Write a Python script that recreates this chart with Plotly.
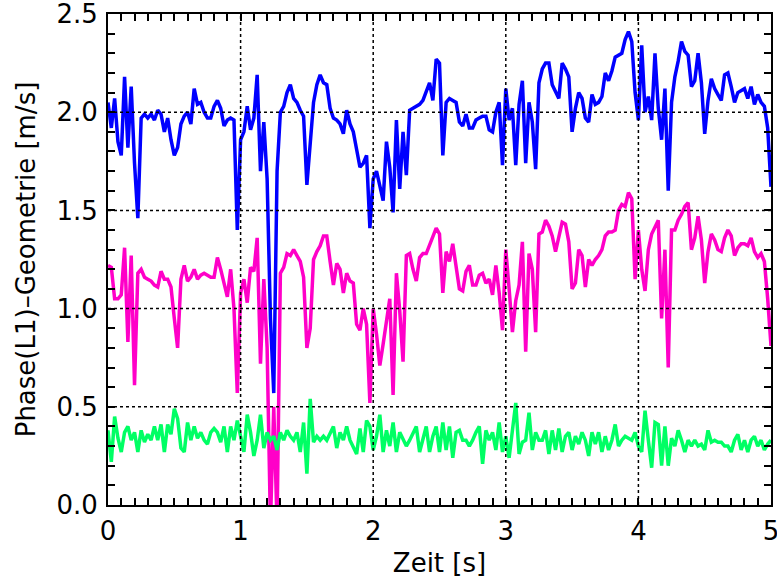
import plotly.graph_objects as go

dt = 0.025
blue = [2.05,1.92,2.07,1.85,1.78,2.18,1.82,2.13,1.74,1.46,1.97,1.99,1.97,1.99,1.96,2.01,1.99,1.90,1.97,1.86,
        1.78,1.82,1.94,1.98,2.00,1.94,2.12,2.04,2.05,2.00,1.97,1.97,2.03,2.06,2.02,1.93,1.96,1.97,1.96,1.40,
        1.86,1.90,2.03,1.91,1.97,2.19,1.70,1.95,1.66,0.95,0.57,1.70,2.00,2.03,2.10,2.14,2.07,2.05,2.01,1.98,
        1.63,1.85,2.05,2.14,2.19,2.15,2.14,2.02,1.97,1.96,1.94,1.89,2.01,1.94,1.90,1.81,1.72,1.74,1.78,1.41,
        1.66,1.70,1.62,1.55,1.85,1.72,1.49,1.96,1.61,1.90,1.68,2.01,2.02,2.03,2.04,2.06,2.10,2.15,2.06,2.27,
        2.25,1.78,2.05,2.07,2.06,2.05,1.95,1.93,1.99,1.92,1.92,1.96,1.97,1.98,1.98,1.91,1.90,2.00,2.05,1.73,
        2.12,1.96,2.02,1.73,2.04,2.16,1.74,2.05,1.95,1.71,2.15,2.22,2.25,2.25,2.14,2.10,2.07,2.25,2.22,2.18,
        1.90,2.02,2.10,2.07,1.97,1.95,2.09,2.04,2.05,2.08,2.20,2.16,2.21,2.28,2.29,2.30,2.37,2.41,2.36,2.10,
        1.96,2.34,2.00,2.08,1.96,2.30,2.02,1.86,2.12,1.60,2.05,2.18,2.26,2.36,2.31,2.29,2.13,2.16,2.30,2.15,
        1.89,2.06,2.17,2.12,2.09,2.06,2.19,2.20,2.13,2.05,2.10,2.11,2.12,2.07,2.13,2.04,2.09,2.05,2.03,1.92,
        1.62]
magenta = [1.22,1.21,1.05,1.05,1.07,1.31,0.83,1.27,0.61,1.18,1.20,1.16,1.15,1.14,1.12,1.11,1.19,1.15,1.15,1.11,
           0.95,0.80,1.15,1.22,1.14,1.16,1.20,1.15,1.17,1.18,1.17,1.16,1.16,1.26,1.20,1.12,1.06,1.20,1.00,0.57,
           1.08,1.15,1.03,1.21,1.19,1.36,0.72,1.15,0.80,-0.10,0.50,-0.10,1.18,1.21,1.28,1.27,1.30,1.27,1.24,1.16,
           0.80,0.90,1.25,1.29,1.32,1.37,1.37,1.24,1.12,1.23,1.20,1.08,1.18,1.14,1.13,0.92,0.89,1.00,0.92,0.52,
           1.00,0.87,0.71,0.82,0.95,1.05,0.56,1.18,0.99,0.73,1.27,1.28,1.20,1.14,1.26,1.28,1.28,1.32,1.36,1.41,
           1.38,1.08,1.29,1.24,1.33,1.21,1.10,1.09,1.19,1.22,1.12,1.12,1.17,1.18,1.13,1.15,1.07,1.22,1.08,0.89,
           1.30,1.10,0.88,1.04,1.12,1.34,0.78,1.28,1.20,0.88,1.38,1.39,1.45,1.42,1.37,1.29,1.36,1.44,1.43,1.34,
           1.10,1.13,1.30,1.27,1.11,1.25,1.22,1.25,1.27,1.30,1.37,1.39,1.39,1.40,1.50,1.53,1.52,1.59,1.56,1.15,
           1.40,1.20,1.09,1.30,1.38,1.42,1.45,0.95,1.30,0.70,1.40,1.40,1.45,1.48,1.52,1.54,1.30,1.36,1.47,1.35,
           1.13,1.29,1.38,1.35,1.30,1.29,1.36,1.40,1.37,1.27,1.31,1.33,1.33,1.32,1.36,1.29,1.26,1.28,1.24,1.05,
           0.81]
green = [0.38,0.22,0.45,0.34,0.27,0.37,0.40,0.33,0.37,0.27,0.38,0.32,0.36,0.33,0.40,0.33,0.41,0.27,0.41,0.36,
         0.49,0.44,0.29,0.27,0.42,0.33,0.40,0.34,0.37,0.33,0.31,0.37,0.39,0.37,0.32,0.40,0.27,0.40,0.33,0.43,
         0.35,0.27,0.46,0.37,0.25,0.33,0.46,0.29,0.37,0.33,0.35,0.28,0.37,0.33,0.38,0.35,0.33,0.37,0.27,0.42,
         0.16,0.54,0.32,0.35,0.33,0.35,0.33,0.37,0.40,0.29,0.37,0.33,0.40,0.33,0.29,0.26,0.39,0.27,0.43,0.40,
         0.28,0.35,0.46,0.27,0.38,0.30,0.42,0.27,0.37,0.33,0.30,0.33,0.37,0.40,0.27,0.33,0.40,0.27,0.35,0.40,
         0.27,0.42,0.28,0.40,0.24,0.37,0.38,0.33,0.33,0.30,0.33,0.37,0.40,0.21,0.38,0.33,0.37,0.28,0.42,0.27,
         0.35,0.24,0.37,0.52,0.26,0.32,0.33,0.47,0.28,0.37,0.33,0.33,0.38,0.26,0.38,0.28,0.39,0.27,0.35,0.37,
         0.28,0.35,0.31,0.37,0.33,0.25,0.37,0.31,0.37,0.27,0.35,0.28,0.33,0.41,0.30,0.33,0.35,0.34,0.33,0.37,
         0.30,0.27,0.48,0.33,0.19,0.42,0.41,0.20,0.40,0.20,0.34,0.30,0.38,0.33,0.27,0.33,0.30,0.33,0.30,0.31,
         0.28,0.38,0.32,0.33,0.32,0.32,0.30,0.30,0.27,0.33,0.36,0.28,0.33,0.27,0.33,0.35,0.30,0.33,0.28,0.31,
         0.33]
t = [i * dt for i in range(len(blue))]

x_ticks = [0, 1, 2, 3, 4, 5]
y_ticks = [0.0, 0.5, 1.0, 1.5, 2.0, 2.5]
x_labels = ["0", "1", "2", "3", "4", "5"]
y_labels = ["0.0", "0.5", "1.0", "1.5", "2.0", "2.5"]

FONT = "DejaVu Sans"
FS = 26
fig = go.Figure()
for ys, col in [(blue, "rgb(0,0,255)"), (magenta, "rgb(255,0,200)"), (green, "rgb(0,255,100)")]:
    fig.add_trace(go.Scatter(x=t, y=ys, mode="lines", line=dict(color=col, width=3.5),
                             showlegend=False))

shapes = []
for xv in x_ticks[1:-1]:
    shapes.append(dict(type="line", xref="x", yref="paper", x0=xv, x1=xv, y0=0, y1=1,
                       line=dict(color="black", width=1.5, dash="dot"), layer="above"))
for yv in y_ticks[1:-1]:
    shapes.append(dict(type="line", xref="paper", yref="y", x0=0, x1=1, y0=yv, y1=yv,
                       line=dict(color="black", width=1.5, dash="dot"), layer="above"))

axis_common = dict(showline=True, linecolor="black", linewidth=2, mirror="allticks",
                   ticks="inside", ticklen=7, tickwidth=2, tickcolor="black",
                   showgrid=False, zeroline=False, automargin=False, layer="above traces",
                   ticklabeloverflow="allow",
                   tickfont=dict(family=FONT, size=FS, color="black"))
fig.update_layout(
    width=777, height=581,
    margin=dict(l=108, r=6, t=14, b=76),
    paper_bgcolor="white", plot_bgcolor="white",
    shapes=shapes,
    xaxis=dict(range=[0, 5], tickmode="array", tickvals=x_ticks, ticktext=x_labels,
               minor=dict(ticks="inside", dtick=0.1, ticklen=7, tickwidth=2, tickcolor="black"),
               title=dict(text="Zeit [s]", font=dict(family=FONT, size=FS, color="black"), standoff=9),
               ticklabelstandoff=2, **axis_common),
    yaxis=dict(range=[0, 2.5], tickmode="array", tickvals=y_ticks, ticktext=y_labels,
               minor=dict(ticks="inside", dtick=0.1, ticklen=7, tickwidth=2, tickcolor="black"),
               title=dict(text="Phase(L1)–Geometrie [m/s]", font=dict(family=FONT, size=FS, color="black"), standoff=13),
               ticklabelstandoff=3, **axis_common),
)
fig.write_html("out.html", config={"displayModeBar": False},
               post_script="document.body.style.margin='0';")
